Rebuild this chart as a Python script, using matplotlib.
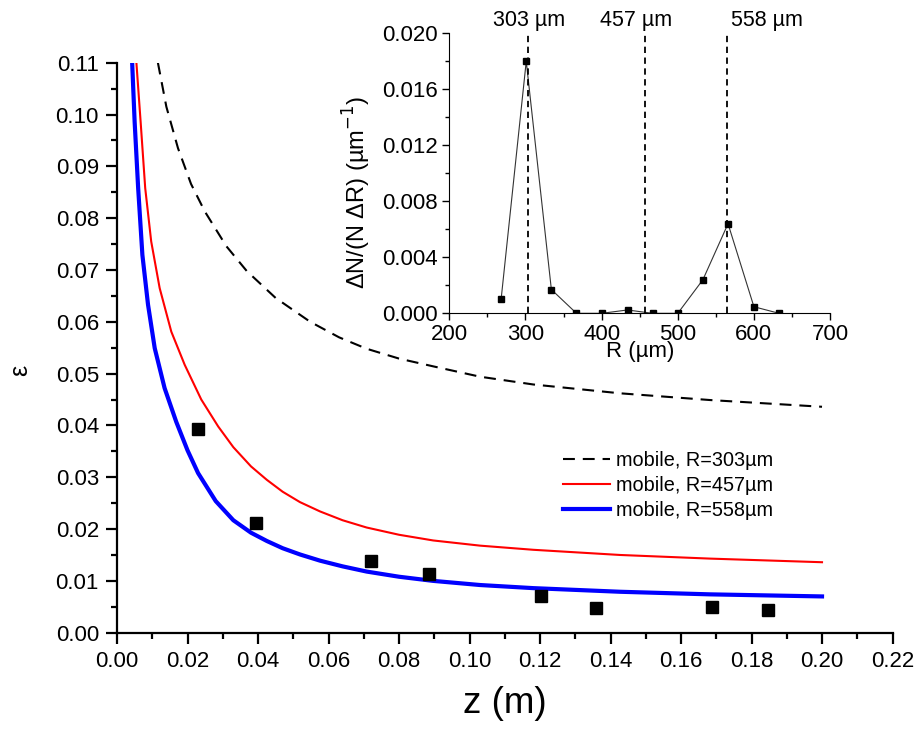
import matplotlib
matplotlib.use("Agg")
import matplotlib.pyplot as plt
from matplotlib.ticker import MultipleLocator, FormatStrFormatter

plt.rcParams['font.family'] = ['Liberation Sans', 'DejaVu Sans']

# Main panel: model curves
z_303 = [0.0116, 0.0140, 0.0173, 0.0210, 0.0249, 0.0310, 0.0368, 0.0450, 0.0548,
         0.0630, 0.0708, 0.0800, 0.0897, 0.1030, 0.1181, 0.1427, 0.1682, 0.2000]
eps_303 = [0.1100, 0.1015, 0.0935, 0.0866, 0.0813, 0.0746, 0.0698, 0.0646, 0.0600,
           0.0570, 0.0548, 0.0529, 0.0514, 0.0494, 0.0479, 0.0462, 0.0449, 0.0436]

z_457 = [0.0055, 0.0067, 0.0080, 0.0097, 0.0121, 0.0154, 0.0192, 0.0239, 0.0287,
         0.0330, 0.0380, 0.0425, 0.0470, 0.0519, 0.0576, 0.0640, 0.0708, 0.0800,
         0.0897, 0.1030, 0.1181, 0.1427, 0.1682, 0.2000]
eps_457 = [0.1100, 0.0986, 0.0858, 0.0755, 0.0665, 0.0581, 0.0517, 0.0450, 0.0398,
           0.0358, 0.0321, 0.0295, 0.0272, 0.0252, 0.0234, 0.0217, 0.0203, 0.0189,
           0.0178, 0.0168, 0.0160, 0.0150, 0.0143, 0.0136]

z_558 = [0.0043, 0.0050, 0.0060, 0.0072, 0.0088, 0.0107, 0.0135, 0.0168, 0.0200,
         0.0230, 0.0280, 0.0330, 0.0380, 0.0425, 0.0470, 0.0519, 0.0576, 0.0640,
         0.0708, 0.0800, 0.0897, 0.1030, 0.1181, 0.1427, 0.1682, 0.2000]
eps_558 = [0.1100, 0.0986, 0.0858, 0.0729, 0.0633, 0.0549, 0.0472, 0.0407, 0.0352,
           0.0308, 0.0254, 0.0217, 0.0193, 0.0177, 0.0163, 0.0151, 0.0139, 0.0128,
           0.0118, 0.0108, 0.0100, 0.0092, 0.0086, 0.0079, 0.0074, 0.0070]

# Main panel: measured points
z_meas = [0.0229, 0.0393, 0.0720, 0.0884, 0.1202, 0.1359, 0.1687, 0.1846]
eps_meas = [0.0394, 0.0211, 0.0138, 0.0114, 0.0071, 0.0048, 0.0050, 0.0044]

# Inset: size distribution
R_bins = [268, 301, 334, 367, 400, 434, 467, 500, 533, 566, 600, 633]
dN = [0.0010, 0.0180, 0.0017, 0.0, 0.0, 0.00024, 0.0, 0.0, 0.0024, 0.0064, 0.00047, 0.0]
R_marks = [303, 457, 565]
R_labels = ['303 µm', '457 µm', '558 µm']

fig = plt.figure(figsize=(9.17, 7.29), dpi=100)
ax = fig.add_axes([0.1276, 0.1321, 0.8457, 0.7819])

ax.plot(z_303, eps_303, color='black', lw=1.5, ls=(0, (5.7, 3.8)),
        label='mobile, R=303µm')
ax.plot(z_457, eps_457, color='red', lw=1.5, label='mobile, R=457µm')
ax.plot(z_558, eps_558, color='blue', lw=3.0, label='mobile, R=558µm')
ax.plot(z_meas, eps_meas, ls='none', marker='s', ms=9, color='black')

ax.set_xlim(0, 0.22)
ax.set_ylim(0, 0.11)
ax.xaxis.set_major_locator(MultipleLocator(0.02))
ax.xaxis.set_minor_locator(MultipleLocator(0.01))
ax.yaxis.set_major_locator(MultipleLocator(0.01))
ax.yaxis.set_minor_locator(MultipleLocator(0.005))
ax.xaxis.set_major_formatter(FormatStrFormatter('%.2f'))
ax.yaxis.set_major_formatter(FormatStrFormatter('%.2f'))
for s in ['top', 'right']:
    ax.spines[s].set_visible(False)
for s in ['left', 'bottom']:
    ax.spines[s].set_linewidth(1.6)
ax.tick_params(which='major', direction='out', length=8, width=1.6, labelsize=16, pad=5)
ax.tick_params(which='minor', direction='out', length=4, width=1.6)
ax.set_xlabel('z (m)', fontsize=26.5, labelpad=10)
ax.set_ylabel('ε', fontsize=18, rotation=90)
ax.yaxis.set_label_coords(-0.11, 0.46)

leg = ax.legend(loc='upper left', bbox_to_anchor=(0.5645, 0.333), frameon=False,
                fontsize=14.3, handlelength=2.4, handletextpad=0.3, labelspacing=0.3,
                borderaxespad=0)

# Inset
ins = fig.add_axes([0.49, 0.5702, 0.4152, 0.3841])
ins.plot(R_bins, dN, color='#333333', lw=0.8, marker='s', ms=5,
         mfc='black', mec='black')
for r in R_marks:
    ins.axvline(r, ymax=1.0, color='black', lw=1.3, ls=(0, (3.5, 2.5)))
ins.set_xlim(200, 700)
ins.set_ylim(0, 0.020)
ins.xaxis.set_major_locator(MultipleLocator(100))
ins.xaxis.set_minor_locator(MultipleLocator(50))
ins.yaxis.set_major_locator(MultipleLocator(0.004))
ins.yaxis.set_minor_locator(MultipleLocator(0.002))
ins.yaxis.set_major_formatter(FormatStrFormatter('%.3f'))
for s in ['top', 'right']:
    ins.spines[s].set_visible(False)
ins.tick_params(which='major', direction='out', length=5, width=1, labelsize=16, pad=3)
ins.tick_params(which='minor', direction='out', length=3, width=1)
ins.set_xlabel('R (µm)', fontsize=16, labelpad=-3)
ins.set_ylabel('ΔN/(N ΔR) (µm$^{-1}$)', fontsize=17)
ins.yaxis.set_label_coords(-0.2, 0.43)
ins.text(R_marks[0] + 2, 0.0209, R_labels[0], ha='center', va='center', fontsize=15.5)
ins.text(R_marks[1] - 12, 0.0209, R_labels[1], ha='center', va='center', fontsize=15.5)
ins.text(R_marks[2] + 5, 0.0209, R_labels[2], ha='left', va='center', fontsize=15.5)

fig.savefig('out.png', dpi=100)
